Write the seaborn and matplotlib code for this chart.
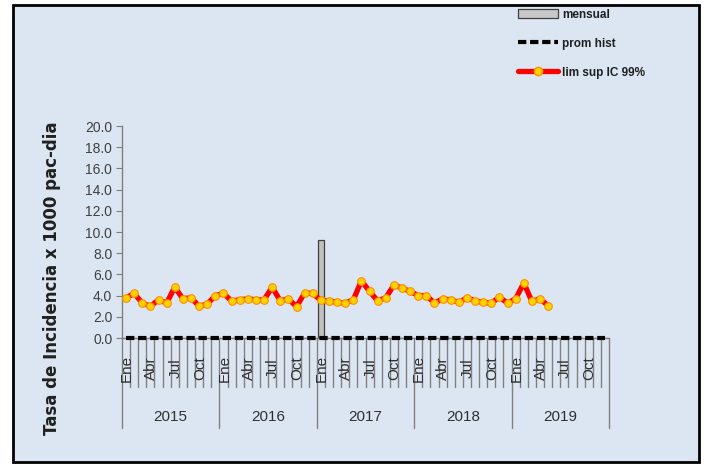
import numpy as np
import pandas as pd
import matplotlib.pyplot as plt
from matplotlib.patches import Rectangle, Patch
from matplotlib.lines import Line2D
import matplotlib.transforms as mtransforms
import seaborn as sns

sns.set_style('ticks')
plt.rcParams['font.family'] = ['Liberation Sans', 'DejaVu Sans']

# --- data ---
years = ['2015', '2016', '2017', '2018', '2019']
months = ['Ene', 'Feb', 'Mar', 'Abr', 'May', 'Jun',
          'Jul', 'Ago', 'Sep', 'Oct', 'Nov', 'Dic']
shown_months = ['Ene', 'Abr', 'Jul', 'Oct']

# monthly rate (only Jan 2017 has a value)
mensual = [0.0] * 24 + [9.2] + [0.0] * 35
# historical mean
prom_hist = [0.0] * 60
# upper limit CI 99% (Jan 2015 - May 2019)
lim_sup = [3.8, 4.2, 3.3, 3.0, 3.6, 3.3, 4.8, 3.7, 3.8, 3.0, 3.2, 4.0,
           4.2, 3.5, 3.6, 3.7, 3.6, 3.6, 4.8, 3.5, 3.7, 2.95, 4.25, 4.2,
           3.55, 3.5, 3.35, 3.3, 3.6, 5.4, 4.4, 3.5, 3.8, 5.0, 4.7, 4.4,
           4.0, 4.0, 3.3, 3.7, 3.6, 3.35, 3.8, 3.5, 3.35, 3.3, 3.85, 3.3,
           3.7, 5.2, 3.45, 3.7, 3.05]

n = len(years) * len(months)
df = pd.DataFrame({'pos': np.arange(n), 'mensual': mensual, 'prom': prom_hist})
df_lim = pd.DataFrame({'pos': np.arange(len(lim_sup)), 'lim': lim_sup})

bg = '#dce6f2'
grey = '#808080'

fig = plt.figure(figsize=(7.07, 4.65), dpi=100)
fig.patch.set_facecolor('white')
fig.patches.append(Rectangle((13 / 707, 1 - 462 / 465), 686 / 707, 457 / 465,
                             transform=fig.transFigure, facecolor=bg,
                             edgecolor='black', linewidth=2, zorder=-10))

ax = fig.add_axes([122 / 707, 1 - 338 / 465, 487 / 707, 212 / 465])
ax.set_facecolor('none')

sns.barplot(data=df, x='pos', y='mensual', native_scale=True, width=0.7,
            color='#c0c0c0', edgecolor='#404040', linewidth=0.9,
            saturation=1, ax=ax, zorder=2)
sns.lineplot(data=df, x='pos', y='prom', color='black', linewidth=3,
             ax=ax, zorder=3)
ax.lines[-1].set_dashes((2, 0.9))
ax.lines[-1].set_clip_on(False)
sns.lineplot(data=df_lim, x='pos', y='lim', color='#ff0000', linewidth=3.8,
             marker='o', markersize=5.5, markerfacecolor='#ffd200',
             markeredgecolor='#ff8c00', markeredgewidth=0.8, ax=ax, zorder=4)

ax.set_xlim(-0.5, n - 0.5)
ax.set_ylim(0, 20)
ax.set_yticks(np.arange(0, 21, 2))
ax.set_yticklabels([f'{v:.1f}' for v in np.arange(0, 21, 2)],
                   fontsize=10, color='#404040')
ax.tick_params(axis='y', length=4, color=grey, pad=3)
ax.set_xticks([])
ax.set_xlabel('')
ax.set_ylabel('')
for s in ['top', 'right']:
    ax.spines[s].set_visible(False)
for s in ['left', 'bottom']:
    ax.spines[s].set_color(grey)
    ax.spines[s].set_linewidth(1)

# multi-level category axis
trans = mtransforms.blended_transform_factory(ax.transData, ax.transAxes)
for i in range(n + 1):
    is_year = (i % 12 == 0)
    y_end = -0.425 if is_year else -0.231
    ax.plot([i - 0.5, i - 0.5], [0, y_end], color=grey, lw=1,
            transform=trans, clip_on=False)
for i in range(n):
    m = months[i % 12]
    if m in shown_months:
        ax.text(i + 0.1, -0.142, m, transform=trans, rotation=90,
                ha='center', va='center', fontsize=11, color='#303030')
for k, yr in enumerate(years):
    ax.text(k * 12 + 5.5, -0.373, yr, transform=trans, ha='center',
            va='center', fontsize=11, color='#303030')

fig.text(52 / 707, 1 - 278 / 465, 'Tasa de Incidencia x 1000 pac-dia',
         rotation=90, ha='center', va='center', fontsize=12,
         fontweight='bold', color='#202020', family='DejaVu Sans')

handles = [Patch(facecolor='#c8c8c8', edgecolor='#404040', linewidth=0.9),
           Line2D([], [], color='black', lw=3, dashes=(2, 0.9)),
           Line2D([], [], color='#ff0000', lw=3.8, marker='o', markersize=6,
                  markerfacecolor='#ffd200', markeredgecolor='#ff8c00')]
labels = ['mensual', 'prom hist', 'lim sup IC 99%']
leg = fig.legend(handles, labels, loc='upper left',
                 bbox_to_anchor=(507 / 707, 1 + 2 / 465), frameon=False,
                 handlelength=3.4, handleheight=0.85, handletextpad=0.4,
                 labelspacing=1.45, numpoints=1, fontsize=8.5)
for t in leg.get_texts():
    t.set_fontweight('bold')
    t.set_color('#202020')

fig.savefig('out.png', dpi=100)
